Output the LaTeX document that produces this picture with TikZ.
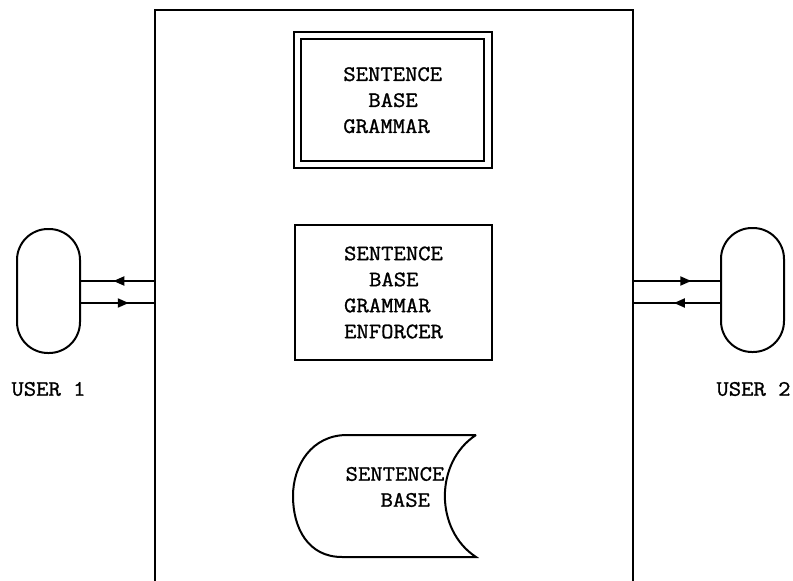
\documentclass[tikz,border=0pt]{standalone}
\usepackage{fontspec}
\setmainfont{Latin Modern Mono}[FakeStretch=1.09, FakeBold=1.2]
\usetikzlibrary{decorations.markings,arrows.meta}

\tikzset{
  label text/.style={font=\fontsize{22}{26}\selectfont, align=left, inner sep=0pt},
  blockbox/.style={draw, inner sep=0pt, label text},
  userpod/.style={draw, minimum width=63pt, minimum height=124pt,
                  rounded corners=31pt, inner sep=0pt},
  flow/.style={postaction=decorate,
    decoration={markings,
      mark=at position #1 with {\arrow{Triangle[length=11pt,width=9pt]}}}}
}

\begin{document}
\begin{tikzpicture}[x=1pt, y=-1pt, line width=2pt]
  \useasboundingbox (0,0) rectangle (793,581);

  % system frame, open at the bottom
  \coordinate (fbl) at (154.5,581);
  \coordinate (ftl) at (154.5,9.5);
  \coordinate (ftr) at (633,9.5);
  \coordinate (fbr) at (633,581);
  \draw (fbl) -- (ftl) -- (ftr) -- (fbr);

  % grammar (double border)
  \node[blockbox, double, double distance=5.5pt,
        minimum width=190.5pt, minimum height=129pt]
    (grammar) at (392.75,100.2)
    {SENTENCE\\\hspace*{25pt}BASE\\GRAMMAR};

  % enforcer
  \node[blockbox, minimum width=197pt, minimum height=135pt]
    (enforcer) at (393.5,292.5)
    {SENTENCE\\\hspace*{25pt}BASE\\GRAMMAR\\ENFORCER};

  % sentence base storage symbol
  \node[label text] (base) at (395,487) {SENTENCE\\\hspace*{35pt}BASE};
  \draw (476,435) -- (347,435)
        .. controls (312,435) and (293,465) .. (293,496)
        .. controls (293,528) and (308,557) .. (342,557)
        -- (476,557)
        .. controls (434.5,530) and (434.5,462) .. (476,435);

  % users
  \node[userpod] (u1) at (48.5,291) {};
  \node[userpod] (u2) at (752.5,290) {};
  \node[label text] (u1l) at (48.5,389) {USER 1};
  \node[label text] (u2l) at (753.5,389) {USER 2};

  % connection points on the frame walls
  \coordinate (la) at (154.5,281);
  \coordinate (lb) at (154.5,303);
  \coordinate (ra) at (633,281);
  \coordinate (rb) at (633,303);

  \draw[flow=0.56] (la) -- (la -| u1.east);
  \draw[flow=0.65] (lb -| u1.east) -- (lb);
  \draw[flow=0.67] (ra) -- (ra -| u2.west);
  \draw[flow=0.53] (rb -| u2.west) -- (rb);
\end{tikzpicture}
\end{document}
